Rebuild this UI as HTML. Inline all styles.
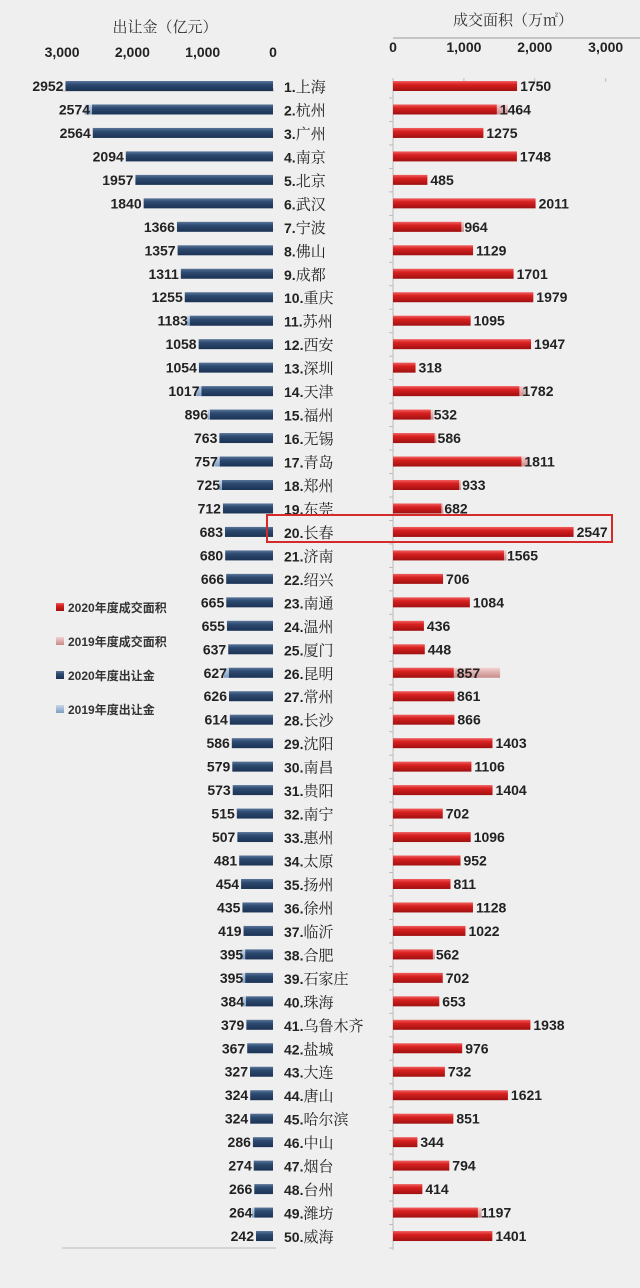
<!DOCTYPE html>
<html><head><meta charset="utf-8">
<style>
html,body{margin:0;padding:0;background:#efefef;}
svg{display:block;font-family:"Liberation Sans","Noto Sans CJK SC",sans-serif;}
.num{font-weight:bold;font-size:14px;fill:#222;}
.city{font-family:"Liberation Serif","Noto Serif CJK SC",serif;font-size:15px;fill:#222;}
.tick{font-weight:bold;font-size:14px;fill:#222;}
.title{font-family:"Liberation Serif","Noto Serif CJK SC",serif;font-size:15px;fill:#333;}
.leg{font-size:12px;font-weight:bold;fill:#333;font-family:"Liberation Sans","Noto Sans CJK SC",sans-serif;}
</style></head>
<body>
<svg id="chart" width="640" height="1288" viewBox="0 0 640 1288" xmlns="http://www.w3.org/2000/svg">
<defs>
<linearGradient id="gNavy" x1="0" y1="0" x2="0" y2="1"><stop offset="0" stop-color="#5a7599"/><stop offset="0.35" stop-color="#2d4a70"/><stop offset="1" stop-color="#1b3254"/></linearGradient>
<linearGradient id="gLight" x1="0" y1="0" x2="0" y2="1"><stop offset="0" stop-color="#c9d8ea"/><stop offset="1" stop-color="#7d9cc2"/></linearGradient>
<linearGradient id="gRed" x1="0" y1="0" x2="0" y2="1"><stop offset="0" stop-color="#f06060"/><stop offset="0.35" stop-color="#d82020"/><stop offset="1" stop-color="#a01010"/></linearGradient>
<linearGradient id="gPink" x1="0" y1="0" x2="0" y2="1"><stop offset="0" stop-color="#f3d0d0"/><stop offset="1" stop-color="#c98a8a"/></linearGradient>
</defs>
<text class="title" x="165" y="32" text-anchor="middle">出让金（亿元）</text>
<text class="title" x="513" y="25" text-anchor="middle">成交面积（万㎡）</text>
<line x1="393" y1="38" x2="640" y2="38" stroke="#999" stroke-width="1"/>
<g id="plot"></g>
<rect x="267" y="515" width="345" height="27" fill="none" stroke="#d62a2a" stroke-width="2"/>
<g>
<rect x="56" y="603" width="8" height="8" fill="url(#gRed)"/><text class="leg" x="68" y="612">2020年度成交面积</text>
<rect x="56" y="637" width="8" height="8" fill="url(#gPink)"/><text class="leg" x="68" y="646">2019年度成交面积</text>
<rect x="56" y="671" width="8" height="8" fill="url(#gNavy)"/><text class="leg" x="68" y="680">2020年度出让金</text>
<rect x="56" y="705" width="8" height="8" fill="url(#gLight)"/><text class="leg" x="68" y="714">2019年度出让金</text>
</g>
</svg>
<script>
const cities=["上海","杭州","广州","南京","北京","武汉","宁波","佛山","成都","重庆","苏州","西安","深圳","天津","福州","无锡","青岛","郑州","东莞","长春","济南","绍兴","南通","温州","厦门","昆明","常州","长沙","沈阳","南昌","贵阳","南宁","惠州","太原","扬州","徐州","临沂","合肥","石家庄","珠海","乌鲁木齐","盐城","大连","唐山","哈尔滨","中山","烟台","台州","潍坊","威海"];
const revenue2020=[2952,2574,2564,2094,1957,1840,1366,1357,1311,1255,1183,1058,1054,1017,896,763,757,725,712,683,680,666,665,655,637,627,626,614,586,579,573,515,507,481,454,435,419,395,395,384,379,367,327,324,324,286,274,266,264,242];
const revenue2019=[null,2680,null,null,null,null,null,null,null,null,1230,null,null,1100,930,null,830,770,null,null,null,null,null,null,null,700,null,null,null,null,null,null,null,null,null,null,null,470,440,450,null,null,null,null,null,null,null,null,300,null];
const area2020=[1750,1464,1275,1748,485,2011,964,1129,1701,1979,1095,1947,318,1782,532,586,1811,933,682,2547,1565,706,1084,436,448,857,861,866,1403,1106,1404,702,1096,952,811,1128,1022,562,702,653,1938,976,732,1621,851,344,794,414,1197,1401];
const area2019=[null,1620,null,null,null,null,1000,null,null,null,null,null,null,1860,570,610,1900,960,710,null,1600,null,null,null,null,1510,880,null,null,null,null,null,null,null,null,null,null,590,null,null,null,null,null,null,null,null,null,null,1250,null];
const leftTicks=["3,000","2,000","1,000","0"];
const leftTickVals=[3000,2000,1000,0];
const rightTicks=["0","1,000","2,000","3,000"];
const rightTickVals=[0,1000,2000,3000];

const NS="http://www.w3.org/2000/svg";
const g=document.getElementById('plot');
const xL=v=>273-v*0.0703;
const xR=v=>393+v*0.0709;
const yRow=i=>86+i*23.47;
function mk(tag,attrs,parent){const e=document.createElementNS(NS,tag);for(const k in attrs)e.setAttribute(k,attrs[k]);(parent||g).appendChild(e);return e;}

leftTicks.forEach((t,i)=>{const e=mk('text',{x:xL(leftTickVals[i]),y:57,'text-anchor':'middle','class':'tick'});e.textContent=t;

});
rightTicks.forEach((t,i)=>{const e=mk('text',{x:xR(rightTickVals[i]),y:52,'text-anchor':'middle','class':'tick'});e.textContent=t;


const tk=mk('line',{x1:xR(rightTickVals[i]),y1:78,x2:xR(rightTickVals[i]),y2:82,stroke:'#bbb'});

});
let ax=mk('line',{x1:62,y1:91,x2:274,y2:91,stroke:'#bbb'});


ax=mk('line',{x1:62,y1:1248,x2:276,y2:1248,stroke:'#bbb'});


ax=mk('line',{x1:393,y1:78,x2:393,y2:1250,stroke:'#bbb'});


leftTickVals.forEach(v=>{const t=mk('line',{x1:xL(v),y1:88,x2:xL(v),y2:91,stroke:'#bbb'});

});

cities.forEach((c,i)=>{
  const y=yRow(i);
  // left 2019
  if(revenue2019[i]!=null){const b=mk('rect',{x:xL(revenue2019[i]),y:y-5,width:273-xL(revenue2019[i]),height:10,fill:'url(#gLight)'});
    
    }
  const b1=mk('rect',{x:xL(revenue2020[i]),y:y-5,width:273-xL(revenue2020[i]),height:10,fill:'url(#gNavy)'});
  
  
  const n1=mk('text',{x:xL(revenue2020[i])-2,y:y+5,'text-anchor':'end','class':'num'});n1.textContent=revenue2020[i];
  
  
  const cl=mk('text',{x:284,y:y+6,'class':'city'});cl.innerHTML='<tspan font-family="Liberation Sans" font-weight="bold" font-size="14">'+(i+1)+'.</tspan>'+c;
  
  
  if(area2019[i]!=null){const p=mk('rect',{x:393,y:y-5,width:xR(area2019[i])-393,height:10,fill:'url(#gPink)'});
    
    }
  const r=mk('rect',{x:393,y:y-5,width:xR(area2020[i])-393,height:10,fill:'url(#gRed)'});
  
  
  const n2=mk('text',{x:xR(area2020[i])+3,y:y+5,'class':'num'});n2.textContent=area2020[i];
  
  
  const tm=mk('line',{x1:389,y1:y+12,x2:393,y2:y+12,stroke:'#bbb'});
  
  
});
</script>
</body></html>
